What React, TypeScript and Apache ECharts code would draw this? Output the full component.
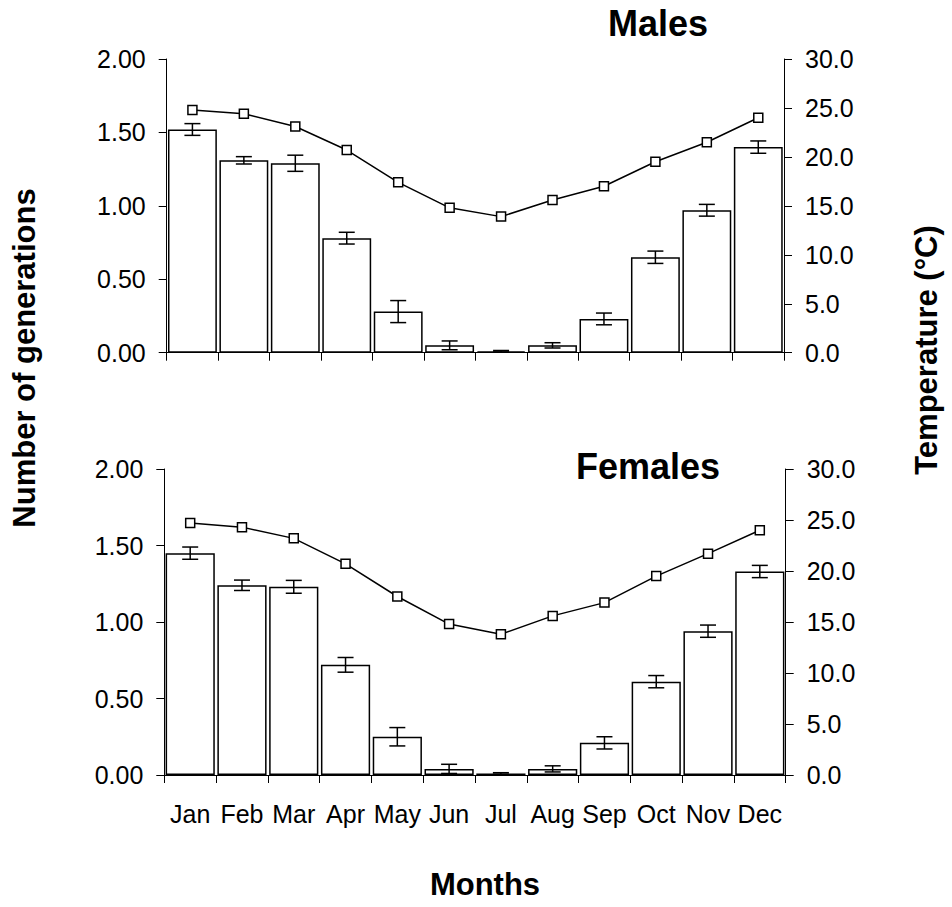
import React, { useEffect, useRef } from "react";
import * as echarts from "echarts";

const FONT = '"Liberation Sans", Arial, Helvetica, sans-serif';

const months = ["Jan", "Feb", "Mar", "Apr", "May", "Jun", "Jul", "Aug", "Sep", "Oct", "Nov", "Dec"];

// Number of generations per month (mean ± error)
const malesGenerations = [1.52, 1.31, 1.29, 0.78, 0.28, 0.05, 0.01, 0.05, 0.23, 0.65, 0.97, 1.4];
const malesErrors = [0.04, 0.025, 0.055, 0.04, 0.075, 0.03, 0.005, 0.018, 0.04, 0.042, 0.04, 0.042];
const femalesGenerations = [1.45, 1.24, 1.23, 0.72, 0.25, 0.04, 0.01, 0.04, 0.21, 0.61, 0.94, 1.33];
const femalesErrors = [0.04, 0.034, 0.042, 0.048, 0.06, 0.03, 0.005, 0.02, 0.04, 0.04, 0.04, 0.04];

// Mean monthly temperature (°C)
const malesTemperature = [24.8, 24.4, 23.1, 20.7, 17.4, 14.8, 13.9, 15.6, 17.0, 19.5, 21.5, 24.0];
const femalesTemperature = [24.7, 24.3, 23.2, 20.7, 17.5, 14.8, 13.8, 15.6, 16.9, 19.5, 21.7, 24.0];

const generationTicks = { min: 0, max: 2, interval: 0.5 };
const temperatureTicks = { min: 0, max: 30, interval: 5 };

const BLACK = "#000";

function errorBars(values: number[], errors: number[], axis: number, yAxis: number) {
  return {
    type: "custom",
    xAxisIndex: axis,
    yAxisIndex: yAxis,
    z: 3,
    silent: true,
    data: values.map((v, i) => [i, v, errors[i]]),
    encode: { x: 0, y: 1 },
    renderItem: (_params: any, api: any) => {
      const i = api.value(0);
      const v = api.value(1);
      const e = api.value(2);
      const hi = api.coord([i, v + e]);
      const lo = api.coord([i, Math.max(0, v - e)]);
      const half = 8;
      const style = { stroke: BLACK, lineWidth: 1.5, fill: "none" };
      return {
        type: "group",
        children: [
          { type: "line", shape: { x1: hi[0], y1: hi[1], x2: lo[0], y2: lo[1] }, style },
          { type: "line", shape: { x1: hi[0] - half, y1: hi[1], x2: hi[0] + half, y2: hi[1] }, style },
          { type: "line", shape: { x1: lo[0] - half, y1: lo[1], x2: lo[0] + half, y2: lo[1] }, style },
        ],
      };
    },
  };
}

function categoryAxis(gridIndex: number, showLabels: boolean) {
  return {
    type: "category",
    gridIndex,
    data: months,
    boundaryGap: true,
    axisLine: { show: true, lineStyle: { color: BLACK, width: 1 } },
    axisTick: { show: true, length: 8, lineStyle: { color: BLACK, width: 1 } },
    axisLabel: {
      show: showLabels,
      color: BLACK,
      fontFamily: FONT,
      fontSize: 25,
      margin: 26,
      interval: 0,
    },
    splitLine: { show: false },
  };
}

function valueAxis(gridIndex: number, position: "left" | "right", ticks: any, digits: number) {
  return {
    type: "value",
    gridIndex,
    position,
    min: ticks.min,
    max: ticks.max,
    interval: ticks.interval,
    axisLine: { show: true, lineStyle: { color: BLACK, width: 1 } },
    axisTick: { show: true, length: 8, lineStyle: { color: BLACK, width: 1 } },
    axisLabel: {
      color: BLACK,
      fontFamily: FONT,
      fontSize: 25,
      margin: 21,
      formatter: (v: number) => v.toFixed(digits),
    },
    splitLine: { show: false },
  };
}

function barSeries(values: number[], axis: number, yAxis: number) {
  return {
    type: "bar",
    xAxisIndex: axis,
    yAxisIndex: yAxis,
    data: values,
    barCategoryGap: "5%",
    z: 2,
    itemStyle: { color: "#fff", borderColor: BLACK, borderWidth: 1.5 },
  };
}

function temperatureSeries(values: number[], axis: number, yAxis: number) {
  return {
    type: "line",
    xAxisIndex: axis,
    yAxisIndex: yAxis,
    data: values,
    z: 4,
    symbol: "rect",
    symbolSize: 9,
    showAllSymbol: true,
    lineStyle: { color: BLACK, width: 1.5 },
    itemStyle: { color: "#fff", borderColor: BLACK, borderWidth: 1.5 },
  };
}

function label(text: string, x: number, y: number, size: number, rotation = 0) {
  return {
    type: "text",
    x,
    y,
    rotation,
    style: {
      text,
      fill: BLACK,
      font: `bold ${size}px ${FONT}`,
      align: "center",
      verticalAlign: "middle",
    },
  };
}

export default function App() {
  const ref = useRef<HTMLDivElement>(null);

  useEffect(() => {
    if (!ref.current) return;
    const chart = echarts.init(ref.current, undefined, { renderer: "svg" });
    chart.setOption({
      animation: false,
      backgroundColor: "#fff",
      grid: [
        { left: 166.7, top: 59, width: 617.3, height: 293.7 },
        { left: 164.3, top: 469, width: 621.4, height: 306 },
      ],
      xAxis: [categoryAxis(0, false), categoryAxis(1, true)],
      yAxis: [
        valueAxis(0, "left", generationTicks, 2),
        valueAxis(0, "right", temperatureTicks, 1),
        valueAxis(1, "left", generationTicks, 2),
        valueAxis(1, "right", temperatureTicks, 1),
      ],
      series: [
        barSeries(malesGenerations, 0, 0),
        errorBars(malesGenerations, malesErrors, 0, 0),
        temperatureSeries(malesTemperature, 0, 1),
        barSeries(femalesGenerations, 1, 2),
        errorBars(femalesGenerations, femalesErrors, 1, 2),
        temperatureSeries(femalesTemperature, 1, 3),
      ],
      graphic: [
        label("Males", 658, 23, 36),
        label("Females", 648, 466, 36),
        label("Months", 485, 884, 31),
        label("Number of generations", 24, 358, 31, Math.PI / 2),
        label("Temperature (°C)", 926, 350, 31, Math.PI / 2),
      ],
    });
    return () => chart.dispose();
  }, []);

  return (
    <div
      ref={ref}
      style={{ position: "absolute", left: 0, top: 0, width: 952, height: 907, background: "#fff" }}
    />
  );
}
